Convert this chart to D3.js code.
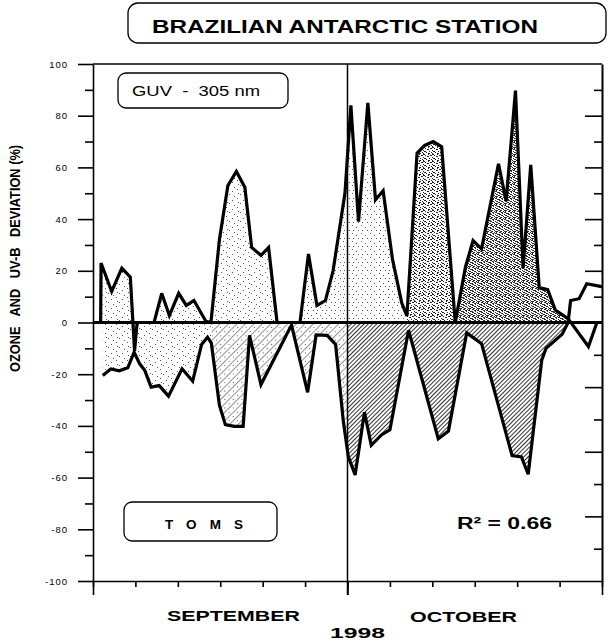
<!DOCTYPE html>
<html>
<head>
<meta charset="utf-8">
<script src="https://cdn.jsdelivr.net/npm/d3@7"></script>
<style>
  body { margin: 0; background: #fff; }
  svg { display: block; font-family: "Liberation Sans", Arial, sans-serif; }
</style>
</head>
<body>
<div id="chartContainer"></div>
<script>
// GUV 305 nm UV-B deviation (%), day 0 = 1 September 1998
var guvDays = [0.9, 0.95, 2.2, 3.4, 4.4, 4.9, 5.2, 7.2, 8.1, 9.0, 10.1, 11.0, 11.9, 13.3, 13.9,
  14.9, 15.9, 16.9, 17.9, 18.7, 19.8, 20.7, 21.7, 24.4, 25.4, 26.4, 27.4, 28.3, 29.7, 30.4,
  31.3, 32.4, 33.3, 34.2, 35.3, 36.4, 37.0, 38.2, 39.1, 40.1, 41.1, 42.7, 43.9, 44.8, 45.8,
  47.8, 48.7, 49.8, 50.7, 51.6, 52.6, 53.6, 54.5, 56.0, 58.4, 59.4, 60];
var guvValues = [0, 23, 12, 21, 17.5, -11, 0, 0, 11.3, 2.7, 11.3, 6.6, 8.5, 0.5, 0,
  32, 53, 58.4, 52.3, 29, 26, 29, 0, 0, 26.5, 6.6, 8.5, 20, 50, 84,
  39, 85, 47.5, 51, 24.5, 7.5, 2.5, 65.5, 68.5, 70, 68, 0, 21.4, 31.7, 28.5,
  61.4, 47, 89.7, 21, 61, 13.5, 12.7, 4.8, 1.5, -9.3, 0, 0];

// TOMS ozone deviation (%)
var tomsDays = [1.15, 2.1, 3.1, 4.1, 4.85, 5.5, 6.1, 6.85, 7.8, 8.9, 10.5, 11.75, 12.8, 13.5, 13.95,
  14.9, 15.6, 16.65, 17.7, 18.45, 19.8, 23.4, 25.3, 26.3, 27.6, 28.6, 29.5, 30.1, 30.9,
  32.0, 32.8, 34.0, 35.0, 37.2, 40.7, 41.9, 44.05, 45.8, 49.4, 50.5, 51.3, 52.9, 53.4,
  55.3, 56.0, 56.3, 57.3, 58.2, 59.8, 60];
var tomsValues = [-20.5, -18, -18.7, -17.5, -11.5, -16, -18.5, -25, -24.4, -28.5, -17.9, -22.7, -8.5, -5.7, -8,
  -32, -39.5, -40.2, -40.2, -5, -24, -1, -27, -4.8, -5, -8.5, -38, -52, -59,
  -34.7, -47.5, -43.5, -41.5, -3, -45, -42, -4, -8.2, -51.5, -52, -58.7, -14.5, -10,
  -4.5, 0, 8.5, 9.2, 15, 14, 13.7];

var leftMajorTicks = [100, 80, 60, 40, 20, 0, -20, -40, -60, -80, -100];
var leftMinorTicks = [90, 70, 50, 30, 10, -10, -30, -50, -70, -90];
var rightMajorTicks = [80, 60, 40, 20, -25, -50, -75];
var rightMinorTicks = [90, 70, 50, 30, 10, -12.5, -37.5, -62.5, -87.5];
var dayTicks = [0, 5, 10, 15, 20, 25, 30, 35, 40, 45, 50, 55, 60];
var monthTicks = [0, 30, 60];
var monthLabels = ["SEPTEMBER", "OCTOBER"];
var yearLabel = "1998";

var guv = guvDays.map(function(d, i) { return {day: d, value: guvValues[i]}; });
var toms = tomsDays.map(function(d, i) { return {day: d, value: tomsValues[i]}; });

var width = 610;
var height = 641;

var svg = d3.select('#chartContainer')
    .append('svg')
    .attr('width', width)
    .attr('height', height);

var xScale = d3.scaleLinear().domain([0, 60]).range([93, 602]);
var yScale = d3.scaleLinear().domain([-100, 100]).range([581, 64]);

/*** fill patterns ***/
var defs = svg.append('defs');

// stipple tile: each entry is x, y, length of a tiny horizontal dash
function stipplePattern(id, w, h, dashes, color) {
  var p = defs.append('pattern').attr('id', id)
    .attr('patternUnits', 'userSpaceOnUse')
    .attr('width', w).attr('height', h);
  dashes.forEach(function(d) {
    p.append('rect').attr('x', d[0]).attr('y', d[1])
      .attr('width', d[2]).attr('height', 1).attr('fill', color);
  });
}

function hatchPattern(id, size, lineW, color, dot) {
  var p = defs.append('pattern').attr('id', id)
    .attr('patternUnits', 'userSpaceOnUse')
    .attr('width', size).attr('height', size)
    .attr('patternTransform', 'rotate(45)');
  p.append('rect').attr('x', 0).attr('y', 0)
    .attr('width', lineW).attr('height', size).attr('fill', color);
  if (dot) {
    p.append('rect').attr('x', size / 2).attr('y', size / 2)
      .attr('width', 1).attr('height', 1).attr('fill', '#555');
  }
}

stipplePattern('dotsLight', 11, 9, [[1, 2, 1], [6, 0, 1], [9, 5, 1], [3, 7, 1], [7, 4, 1]], '#555');
stipplePattern('dotsSparse', 9, 8, [[1, 1, 1], [5, 3, 1], [2, 6, 1], [7, 6, 1]], '#555');
stipplePattern('dotsDense', 9, 7, [[0, 0, 2], [5, 0, 1], [2, 1, 1], [7, 1, 2], [0, 3, 1], [4, 2, 2],
  [1, 4, 2], [6, 4, 1], [3, 5, 1], [8, 5, 1], [0, 6, 1], [5, 6, 2]], '#222');
stipplePattern('dotsDarker', 9, 7, [[0, 0, 3], [5, 0, 2], [1, 1, 1], [4, 1, 2], [8, 1, 1], [0, 2, 2],
  [6, 2, 2], [2, 3, 3], [7, 3, 1], [0, 4, 1], [4, 4, 2], [1, 5, 2], [6, 5, 2], [3, 6, 2], [8, 6, 1]], '#2a2a2a');
hatchPattern('hatchLight', 6, 0.8, '#777', true);
hatchPattern('hatch', 3, 1, '#333', false);

// which pattern fills which stretch of days
var guvBands = [[0, 14, 'dotsLight'], [14, 24, 'dotsLight'], [24, 37, 'dotsSparse'],
  [37, 43, 'dotsDense'], [43, 56, 'dotsDarker'], [56, 60, 'dotsLight']];
var tomsBands = [[0, 14, 'dotsLight'], [14, 30, 'hatchLight'], [30, 60, 'hatch']];

// half planes above and below zero
defs.append('clipPath').attr('id', 'clipAbove').append('rect')
  .attr('x', xScale(0)).attr('y', yScale(100))
  .attr('width', xScale(60) - xScale(0)).attr('height', yScale(0) - yScale(100));
defs.append('clipPath').attr('id', 'clipBelow').append('rect')
  .attr('x', xScale(0)).attr('y', yScale(0))
  .attr('width', xScale(60) - xScale(0)).attr('height', yScale(-100) - yScale(0));

var areaFunc = d3.area()
  .x(function(d) { return xScale(d.day); })
  .y0(yScale(0))
  .y1(function(d) { return yScale(d.value); });

var lineFunc = d3.line()
  .x(function(d) { return xScale(d.day); })
  .y(function(d) { return yScale(d.value); });

function drawBands(data, bands, half, name) {
  bands.forEach(function(b, i) {
    var cid = 'band-' + name + '-' + i;
    defs.append('clipPath').attr('id', cid).append('rect')
      .attr('x', xScale(b[0])).attr('y', 0)
      .attr('width', xScale(b[1]) - xScale(b[0])).attr('height', height);
    svg.append('g').attr('clip-path', 'url(#' + cid + ')')
      .append('path')
      .attr('clip-path', 'url(#' + half + ')')
      .attr('d', areaFunc(data))
      .attr('fill', 'url(#' + b[2] + ')');
  });
}

drawBands(guv, guvBands, 'clipAbove', 'guv');
drawBands(toms, tomsBands, 'clipBelow', 'toms');

/*** axes ***/
function styleAxis(g) {
  g.selectAll('path').attr('stroke', '#000').attr('stroke-width', 1.6);
  g.selectAll('line').attr('stroke', '#000').attr('stroke-width', 1.6);
}

var leftAxisG = svg.append('g').attr('transform', 'translate(' + xScale(0) + ',0)');
leftAxisG.call(d3.axisLeft(yScale).tickValues(leftMajorTicks).tickSize(15).tickSizeOuter(0)
  .tickPadding(10).tickFormat(function(d) { return String(d); }));
styleAxis(leftAxisG);
leftAxisG.selectAll('text')
  .attr('font-family', '"Liberation Sans", Arial, sans-serif')
  .attr('font-size', 9.5)
  .attr('letter-spacing', 1)
  .attr('fill', '#000');

var leftMinorG = svg.append('g').attr('transform', 'translate(' + xScale(0) + ',0)');
leftMinorG.call(d3.axisLeft(yScale).tickValues(leftMinorTicks).tickSize(8).tickSizeOuter(0).tickFormat(''));
leftMinorG.select('.domain').remove();
styleAxis(leftMinorG);

var rightAxisG = svg.append('g').attr('transform', 'translate(' + xScale(60) + ',0)');
rightAxisG.call(d3.axisLeft(yScale).tickValues(rightMajorTicks).tickSize(17).tickSizeOuter(0).tickFormat(''));
styleAxis(rightAxisG);
rightAxisG.select('.domain').attr('stroke-width', 2);

var rightMinorG = svg.append('g').attr('transform', 'translate(' + xScale(60) + ',0)');
rightMinorG.call(d3.axisLeft(yScale).tickValues(rightMinorTicks).tickSize(8).tickSizeOuter(0).tickFormat(''));
rightMinorG.select('.domain').remove();
styleAxis(rightMinorG);

var bottomAxisG = svg.append('g').attr('transform', 'translate(0,' + yScale(-100) + ')');
bottomAxisG.call(d3.axisBottom(xScale).tickValues(dayTicks).tickSize(6).tickSizeOuter(0).tickFormat(''));
styleAxis(bottomAxisG);

var monthAxisG = svg.append('g').attr('transform', 'translate(0,' + yScale(-100) + ')');
monthAxisG.call(d3.axisBottom(xScale).tickValues(monthTicks).tickSize(14).tickSizeOuter(0).tickFormat(''));
monthAxisG.select('.domain').remove();
styleAxis(monthAxisG);

// top frame line
svg.append('line')
  .attr('x1', xScale(0)).attr('x2', xScale(60))
  .attr('y1', yScale(100)).attr('y2', yScale(100))
  .attr('stroke', '#000').attr('stroke-width', 1.4);

// 1 October divider
svg.append('line')
  .attr('x1', xScale(30)).attr('x2', xScale(30))
  .attr('y1', yScale(100)).attr('y2', yScale(-100) + 14)
  .attr('stroke', '#000').attr('stroke-width', 1.5);

// zero line
svg.append('line')
  .attr('x1', xScale(0)).attr('x2', xScale(60))
  .attr('y1', yScale(0)).attr('y2', yScale(0))
  .attr('stroke', '#000').attr('stroke-width', 3);

/*** series lines ***/
[guv, toms].forEach(function(s) {
  svg.append('path')
    .attr('d', lineFunc(s))
    .attr('fill', 'none')
    .attr('stroke', '#000')
    .attr('stroke-width', 3.2)
    .attr('stroke-linejoin', 'miter')
    .attr('stroke-miterlimit', 3);
});

/*** text and boxes ***/
svg.append('rect')
  .attr('x', 128).attr('y', 3).attr('width', 478).attr('height', 40)
  .attr('rx', 10).attr('fill', 'none').attr('stroke', '#000').attr('stroke-width', 1.3);
svg.append('text')
  .attr('x', 152).attr('y', 33)
  .attr('font-size', 19).attr('font-weight', 'bold')
  .attr('textLength', 386).attr('lengthAdjust', 'spacingAndGlyphs')
  .text('BRAZILIAN ANTARCTIC STATION');

svg.append('rect')
  .attr('x', 118).attr('y', 73).attr('width', 170).attr('height', 35)
  .attr('rx', 8).attr('fill', 'none').attr('stroke', '#000').attr('stroke-width', 1.3);
svg.append('text')
  .attr('x', 132).attr('y', 96)
  .attr('font-size', 14)
  .attr('textLength', 128).attr('lengthAdjust', 'spacingAndGlyphs')
  .style('white-space', 'pre')
  .text('GUV  -  305 nm');

svg.append('rect')
  .attr('x', 124).attr('y', 502).attr('width', 153).attr('height', 39)
  .attr('rx', 8).attr('fill', 'none').attr('stroke', '#000').attr('stroke-width', 1.3);
svg.append('text')
  .attr('x', 165).attr('y', 529)
  .attr('font-size', 13.5).attr('font-weight', 'bold')
  .attr('textLength', 78).attr('lengthAdjust', 'spacing')
  .text('TOMS');

svg.append('text')
  .attr('x', 457).attr('y', 529)
  .attr('font-size', 16).attr('font-weight', 'bold')
  .attr('textLength', 95).attr('lengthAdjust', 'spacingAndGlyphs')
  .text('R\u00B2 = 0.66');

svg.append('text')
  .attr('x', 167).attr('y', 621)
  .attr('font-size', 15).attr('font-weight', 'bold')
  .attr('textLength', 133).attr('lengthAdjust', 'spacingAndGlyphs')
  .text(monthLabels[0]);
svg.append('text')
  .attr('x', 410).attr('y', 622)
  .attr('font-size', 15).attr('font-weight', 'bold')
  .attr('textLength', 107).attr('lengthAdjust', 'spacingAndGlyphs')
  .text(monthLabels[1]);
svg.append('text')
  .attr('x', 330).attr('y', 638)
  .attr('font-size', 14).attr('font-weight', 'bold')
  .attr('textLength', 55).attr('lengthAdjust', 'spacingAndGlyphs')
  .text(yearLabel);

svg.append('text')
  .attr('transform', 'translate(20,372) rotate(-90)')
  .attr('font-size', 14).attr('font-weight', 'bold')
  .attr('textLength', 227).attr('lengthAdjust', 'spacingAndGlyphs')
  .style('white-space', 'pre')
  .text('OZONE   AND   UV-B   DEVIATION (%)');
</script>
</body>
</html>
